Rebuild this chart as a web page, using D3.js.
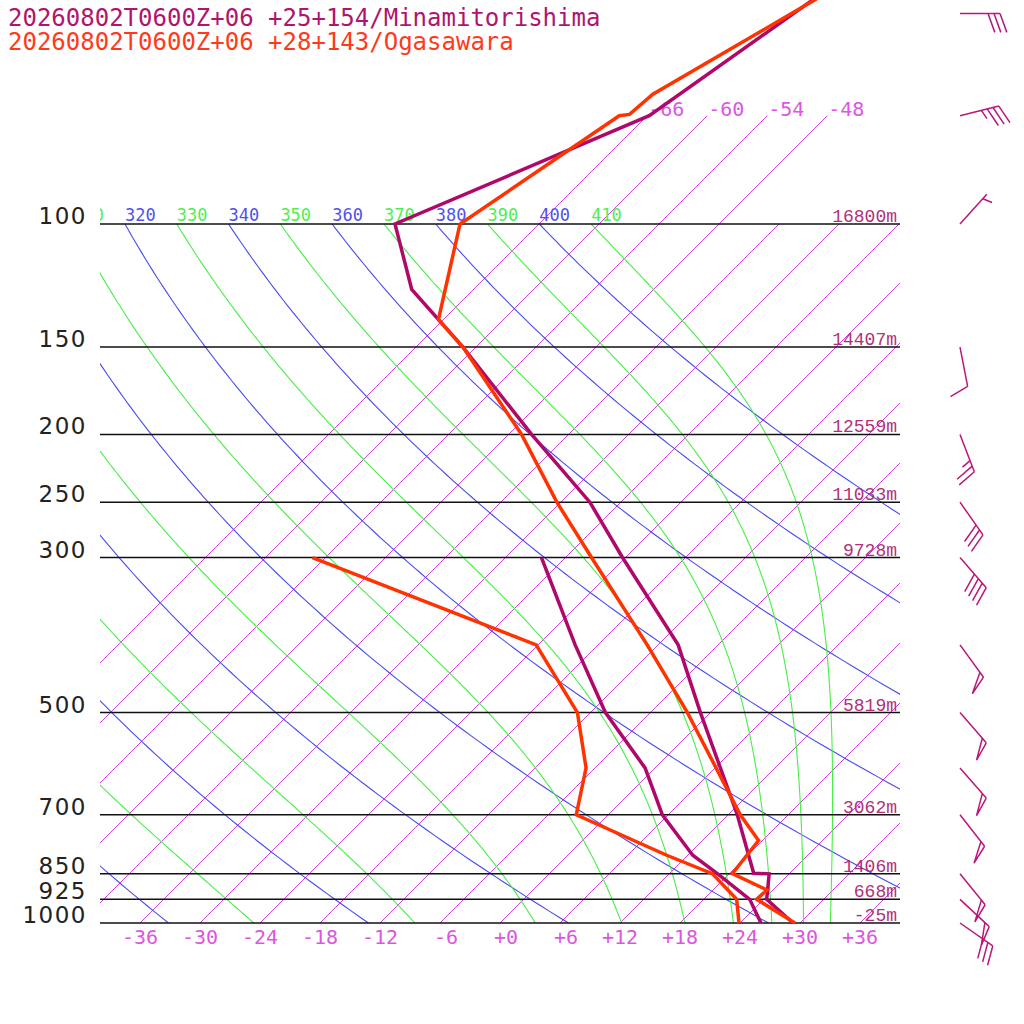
<!DOCTYPE html>
<html><head><meta charset="utf-8">
<script src="https://cdn.jsdelivr.net/npm/d3@7/dist/d3.min.js"></script>
<style>body{margin:0;background:#fff}svg{display:block}</style>
</head><body>
<svg id="c" width="1024" height="1024"></svg>
<script>
// ---------- data ----------
const stationNames = ["20260802T0600Z+06 +25+154/Minamitorishima", "20260802T0600Z+06 +28+143/Ogasawara"];
const stationColors = ["#b0086a", "#ff3300"];

// Minamitorishima temperature
const minP_T = [1000, 925, 850.5, 849, 700, 500, 400, 300, 250, 200, 150, 124, 100, 70, 50, 40];
const minT   = [29.3, 24.3, 22.0, 20.4, 12.9, -1.0, -10.0, -24.3, -33.1, -45.7, -61.3, -72.2, -80.4, -65.8, -61.6, -58.8];
// Minamitorishima dew point
const minP_D = [1000, 925, 850, 800, 700, 600, 500, 400, 300];
const minTd  = [26.1, 22.6, 16.8, 12.5, 5.4, -1.0, -10.5, -20.3, -32.4];

// Ogasawara temperature
const ogaP_T = [1000, 925, 897, 850, 762, 700, 500, 400, 300, 250, 200, 150, 137, 100, 70, 69.7, 65.2, 50, 40];
const ogaT   = [29.5, 23.3, 23.4, 18.3, 17.6, 13.2, -2.3, -13.1, -27.4, -36.4, -46.7, -61.3, -66.5, -73.9, -68.8, -67.9, -67.6, -61.8, -57.0];
// Ogasawara dew point
const ogaP_D = [1000, 925, 850, 800, 700, 600, 500, 400, 300];
const ogaTd  = [23.9, 21.3, 16.3, 9.9, -3.2, -6.9, -13.3, -24.2, -55.3];

// isobars with pressure labels and heights
const isobars   = [1000, 925, 850, 700, 500, 300, 250, 200, 150, 100];
const heightLbl = ["-25m", "668m", "1406m", "3062m", "5819m", "9728m", "11033m", "12559m", "14407m", "16800m"];

// isotherms (degC)
const isotherms = [-66, -60, -54, -48, -42, -36, -30, -24, -18, -12, -6, 0, 6, 12, 18, 24, 30, 36];
const upperIsotherms = [-66, -60, -54, -48];
const upperIsoLbl = ["-66", "-60", "-54", "-48"];
const bottomTicks = [-36, -30, -24, -18, -12, -6, 0, 6, 12, 18, 24, 30, 36];
const bottomLbl = ["-36", "-30", "-24", "-18", "-12", " -6", " +0", " +6", "+12", "+18", "+24", "+30", "+36"];

// adiabats (K), labelled at 100 hPa
const dryTheta   = [240, 260, 280, 300, 320, 340, 360, 380, 400];
const moistTheta = [250, 270, 290, 310, 330, 350, 370, 390, 410];
const labelledTheta = [310, 320, 330, 340, 350, 360, 370, 380, 390, 400, 410];

// wind barbs (Minamitorishima)
const barbP   = [50, 70, 100, 150, 200, 250, 300, 400, 500, 600, 700, 850, 925, 1000];
const barbDir = [90, 76, 42, 169, 159, 145, 139, 144, 139, 139, 142, 141, 133, 125];
const barbSpd = [30, 35, 5, 10, 25, 30, 40, 50, 50, 50, 50, 50, 50, 30];

// ---------- scales ----------
const svg = d3.select("#c");
svg.append("rect").attr("width", 1024).attr("height", 1024).attr("fill", "#fff");
const y = d3.scaleLog().domain([1000, 100]).range([923, 224]);
const x0 = d3.scaleLinear().domain([-40, 40]).range([100, 900]);
const sx = (T, p) => x0(T) + (y(1000) - y(p));
const K = 273.15, kappa = 0.2857;

svg.append("defs").append("clipPath").attr("id", "plot")
  .append("rect").attr("x", 100).attr("y", 0).attr("width", 800).attr("height", 923.5);
const g = svg.append("g").attr("clip-path", "url(#plot)");

const line = d3.line().x(d => sx(d[1], d[0])).y(d => y(d[0]));
const pGrid = d3.range(0, 121).map(i => 100 * Math.pow(10, i / 120));

// isotherms
isotherms.forEach(T => {
  const top = upperIsotherms.includes(T) ? 70 : 100;
  g.append("path").attr("d", line([[1000, T], [top, T]]))
    .attr("stroke", "#cc44dd").attr("stroke-width", 1).attr("fill", "none");
});

// dry adiabats
dryTheta.forEach(th => {
  const pts = pGrid.map(p => [p, th * Math.pow(p / 1000, kappa) - K]);
  g.append("path").attr("d", line(pts)).attr("stroke", "#4a4af2").attr("stroke-width", 1.1).attr("fill", "none");
});

// moist (pseudo) adiabats integrated from 100 hPa down
function moist(th) {
  const Rd = 287.04, Cp = 1005.7, Lv = 2.501e6, eps = 0.622;
  const es = T => 6.112 * Math.exp(17.67 * (T - K) / (T - 29.65));
  const f = (lnp, T) => { const p = Math.exp(lnp), e = es(T), rs = eps * e / (p - e);
    return (Rd * T + Lv * rs) / (Cp + Lv * Lv * rs * eps / (Rd * T * T)); };
  let T = th * Math.pow(0.1, kappa);
  const n = 180, a = Math.log(100), b = Math.log(1000), h = (b - a) / n;
  const out = [[100, T - K]];
  for (let i = 0; i < n; i++) {
    const l = a + i * h;
    const k1 = f(l, T), k2 = f(l + h / 2, T + h * k1 / 2), k3 = f(l + h / 2, T + h * k2 / 2), k4 = f(l + h, T + h * k3);
    T += h * (k1 + 2 * k2 + 2 * k3 + k4) / 6;
    out.push([Math.exp(l + h), T - K]);
  }
  return out;
}
moistTheta.forEach(th => {
  g.append("path").attr("d", line(moist(th))).attr("stroke", "#48ee48").attr("stroke-width", 1.1).attr("fill", "none");
});

// adiabat labels at 100 hPa
labelledTheta.forEach(th => {
  const dry = dryTheta.includes(th);
  g.append("text").attr("x", sx(th * Math.pow(0.1, kappa) - K, 100)).attr("y", 221)
    .attr("font-family", "DejaVu Sans Mono").attr("font-size", 17)
    .attr("fill", dry ? "#5050f0" : "#50ee50").text(th);
});

// upper isotherm labels
upperIsotherms.forEach((T, i) => {
  svg.append("text").attr("x", sx(T, 70) + 1).attr("y", y(70))
    .attr("font-family", "DejaVu Sans Mono").attr("font-size", 20).attr("fill", "#dd55e6").text(upperIsoLbl[i]);
});

// isobars
isobars.forEach((p, i) => {
  svg.append("line").attr("x1", 100).attr("x2", 900).attr("y1", y(p)).attr("y2", y(p))
    .attr("stroke", "#111").attr("stroke-width", 1.5);
  svg.append("text").attr("x", 87).attr("y", y(p)).attr("text-anchor", "end")
    .attr("font-family", "DejaVu Sans").attr("font-size", 23).attr("letter-spacing", "1.5px")
    .attr("fill", "#222").text(p);
  svg.append("text").attr("x", 897).attr("y", y(p) - 2).attr("text-anchor", "end")
    .attr("font-family", "Liberation Mono").attr("font-size", 18).attr("fill", "#b0307a").text(heightLbl[i]);
});

// bottom temperature labels
bottomTicks.forEach((T, i) => {
  svg.append("text").attr("x", x0(T)).attr("y", 944).attr("text-anchor", "middle")
    .attr("font-family", "DejaVu Sans Mono").attr("font-size", 20).attr("fill", "#dd55e0")
    .style("white-space", "pre").text(bottomLbl[i]);
});

// soundings
const zip = (P, T) => P.map((p, i) => [p, T[i]]);
const soundings = [
  [zip(minP_T, minT), zip(minP_D, minTd), stationColors[0]],
  [zip(ogaP_T, ogaT), zip(ogaP_D, ogaTd), stationColors[1]]
];
soundings.forEach(s => {
  [s[1], s[0]].forEach(d => svg.append("path").attr("d", line(d)).attr("stroke", s[2])
    .attr("stroke-width", 3.5).attr("fill", "none").attr("stroke-linejoin", "miter"));
});

// wind barbs
function barb(p, dir, spd) {
  const ax = 960, ay = y(p), r = dir * Math.PI / 180;
  const ux = Math.sin(r), uy = -Math.cos(r), L = 40;
  const tx = ax + ux * L, ty = ay + uy * L;
  const c = Math.cos(70 * Math.PI / 180), s = Math.sin(70 * Math.PI / 180);
  const bx = ux * c - uy * s, by = ux * s + uy * c;
  const pt = k => [tx - ux * k, ty - uy * k];
  let d = `M${ax},${ay}L${tx},${ty}`;
  const n50 = Math.floor(spd / 50), rem = spd % 50, n10 = Math.floor(rem / 10), n5 = rem % 10 >= 5 ? 1 : 0;
  let pos = 0;
  for (let i = 0; i < n50; i++) {
    const a = pt(pos), e = pt(pos + 6);
    d += `M${a[0]},${a[1]}L${a[0] + bx * 20},${a[1] + by * 20}L${e[0]},${e[1]}`;
    pos += 9;
  }
  for (let i = 0; i < n10; i++) {
    const a = pt(pos);
    d += `M${a[0]},${a[1]}L${a[0] + bx * 20},${a[1] + by * 20}`;
    pos += 6;
  }
  if (n5) {
    if (pos === 0) pos = 6;
    const a = pt(pos);
    d += `M${a[0]},${a[1]}L${a[0] + bx * 10},${a[1] + by * 10}`;
  }
  svg.append("path").attr("d", d).attr("stroke", "#b8187a").attr("stroke-width", 1.5).attr("fill", "none");
}
barbP.forEach((p, i) => barb(p, barbDir[i], barbSpd[i]));

// legend
stationNames.forEach((t, i) => {
  svg.append("text").attr("x", 8).attr("y", 26 + i * 24)
    .attr("font-family", "DejaVu Sans Mono").attr("font-size", 24)
    .attr("fill", i === 0 ? "#b0146e" : "#ff3a1a").text(t);
});
</script>
</body></html>
